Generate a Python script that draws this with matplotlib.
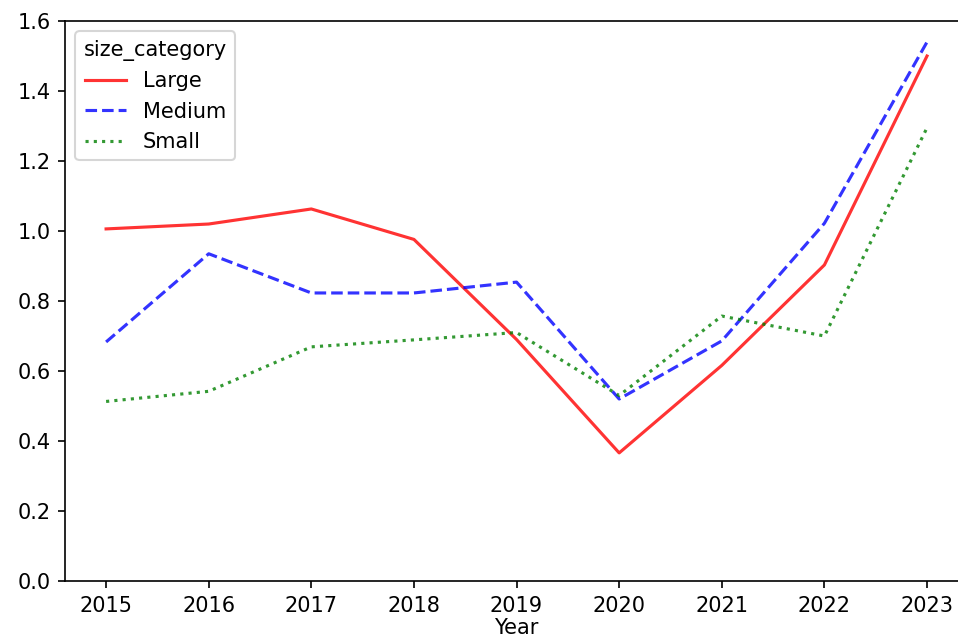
import matplotlib
matplotlib.use('Agg')
import matplotlib.pyplot as plt

years = [2015, 2016, 2017, 2018, 2019, 2020, 2021, 2022, 2023]
large = [1.006, 1.02, 1.063, 0.976, 0.69, 0.366, 0.616, 0.903, 1.50]
medium = [0.683, 0.935, 0.823, 0.823, 0.854, 0.52, 0.686, 1.022, 1.54]
small = [0.513, 0.542, 0.669, 0.689, 0.710, 0.530, 0.757, 0.700, 1.295]

series = {'Large': large, 'Medium': medium, 'Small': small}
colors = {'Large': 'red', 'Medium': 'blue', 'Small': 'green'}
styles = {'Large': '-', 'Medium': '--', 'Small': ':'}

fig = plt.figure(figsize=(958 / 150, 641 / 150), dpi=150)
ax = fig.add_axes([0.0679, 0.0936, 0.9426, 0.8736])

for name, vals in series.items():
    ax.plot(years, vals, color=colors[name], linestyle=styles[name],
            linewidth=1.5, alpha=0.8, label=name)

ax.set_xlim(2014.6, 2023.4)
ax.set_ylim(0, 1.6)
ax.set_xticks(years)
ax.set_xlabel('Year', labelpad=1)
ax.legend(title='size_category', loc='upper left')

fig.savefig('out.png', dpi=150)
